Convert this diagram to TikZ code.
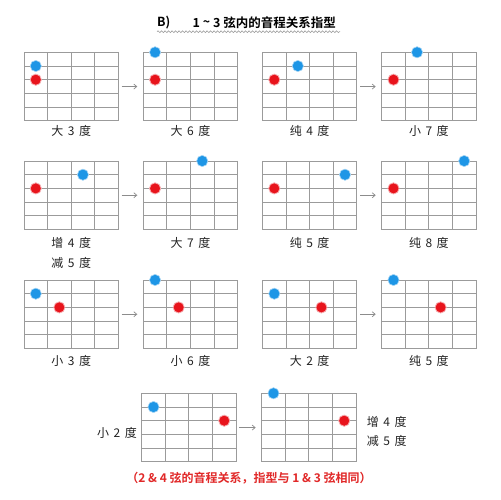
\documentclass[tikz,border=0pt]{standalone}
\usepackage{fontspec}
\setmainfont{Noto Sans CJK SC}
\newfontfamily\cjkbold{Noto Sans CJK SC Bold}
\usetikzlibrary{decorations.pathmorphing,arrows.meta}
\definecolor{gridc}{RGB}{155,155,155}
\definecolor{dotblue}{RGB}{30,150,230}
\definecolor{dotred}{RGB}{232,20,28}
\definecolor{txt}{RGB}{35,35,35}
\definecolor{notered}{RGB}{225,40,40}
\tikzset{
  gridline/.style={draw=gridc,line width=0.8pt},
  board/.style={draw=none,minimum width=94.3pt,minimum height=68.5pt,inner sep=0pt,outer sep=0pt},
  bluedot/.style={fill=dotblue,draw=dotblue!40,line width=0.6pt},
  reddot/.style={fill=dotred,draw=dotred!35,line width=0.8pt},
  lbl/.style={text=txt,font=\fontsize{12}{14}\selectfont,inner sep=0pt},
  nextarrow/.style={draw=gray!90,line width=0.7pt,-{Straight Barb[length=3pt,width=5pt]},shorten <=3.4pt,shorten >=6pt},
}
\newcommand\IntLbl[2]{#1\hspace{4.5pt}#2\hspace{4.5pt}度}
\newcommand\FB[7]{%
  \begin{scope}[shift={(#2,#3)}]
    \node[board,anchor=north west] (#1) at (0,0) {};
    \foreach \j in {0,...,5} \draw[gridline] (0,\j*13.7) -- (94.3,\j*13.7);
    \foreach \i in {0,...,4} \draw[gridline] (\i*23.575,0) -- (\i*23.575,68.5);
    \fill[bluedot] ({23.575*(#4+0.5)},{13.7*#5}) circle (5.6);
    \fill[reddot] ({23.575*(#6+0.5)},{13.7*#7}) circle (5.6);
  \end{scope}}
\begin{document}
\begin{tikzpicture}[x=1pt,y=-1pt]
\useasboundingbox[fill=white] (0,0) rectangle (501,500);
% title
\node[anchor=west,inner sep=0pt,text=black,font=\cjkbold\fontsize{12.5}{14}\selectfont] (titleb) at (157,22.5) {B)};
\node[anchor=west,inner sep=0pt,text=black,font=\cjkbold\fontsize{12.5}{14}\selectfont] (title) at (192.5,22.5) {1 \raisebox{1pt}{\char"007E} 3\hspace{3pt}弦内的音程关系指型};
\draw[gridc,line width=0.6pt,decorate,decoration={snake,amplitude=0.9pt,segment length=3.5pt}] (157,31.7) -- (340,31.7);
% row 1
\FB{a1}{24}{52.3}{0}{1}{0}{2}
\FB{a2}{143.3}{52.3}{0}{0}{0}{2}
\FB{a3}{262.5}{52.3}{1}{1}{0}{2}
\FB{a4}{381.7}{52.3}{1}{0}{0}{2}
\draw[nextarrow] (a1.east) -- (a2.west);
\draw[nextarrow] (a3.east) -- (a4.west);
\node[lbl] (la1) at (71.2,131) {\IntLbl{大}{3}};
\node[lbl] (la2) at (190.5,131) {\IntLbl{大}{6}};
\node[lbl] (la3) at (309.6,131) {\IntLbl{纯}{4}};
\node[lbl] (la4) at (428.9,131) {\IntLbl{小}{7}};
% row 2
\FB{b1}{24}{161}{2}{1}{0}{2}
\FB{b2}{143.3}{161}{2}{0}{0}{2}
\FB{b3}{262.5}{161}{3}{1}{0}{2}
\FB{b4}{381.7}{161}{3}{0}{0}{2}
\draw[nextarrow] (b1.east) -- (b2.west);
\draw[nextarrow] (b3.east) -- (b4.west);
\node[lbl] (lb1) at (71.2,243.3) {\IntLbl{增}{4}};
\node[lbl] (lb1b) at (71.2,262.7) {\IntLbl{减}{5}};
\node[lbl] (lb2) at (190.5,243.3) {\IntLbl{大}{7}};
\node[lbl] (lb3) at (309.6,243.3) {\IntLbl{纯}{5}};
\node[lbl] (lb4) at (428.9,243.3) {\IntLbl{纯}{8}};
% row 3
\FB{c1}{24}{280}{0}{1}{1}{2}
\FB{c2}{143.3}{280}{0}{0}{1}{2}
\FB{c3}{262.5}{280}{0}{1}{2}{2}
\FB{c4}{381.7}{280}{0}{0}{2}{2}
\draw[nextarrow] (c1.east) -- (c2.west);
\draw[nextarrow] (c3.east) -- (c4.west);
\node[lbl] (lc1) at (71.2,361) {\IntLbl{小}{3}};
\node[lbl] (lc2) at (190.5,361) {\IntLbl{小}{6}};
\node[lbl] (lc3) at (309.6,361) {\IntLbl{大}{2}};
\node[lbl] (lc4) at (428.9,361) {\IntLbl{纯}{5}};
% row 4
\FB{d1}{141.7}{393.3}{0}{1}{3}{2}
\FB{d2}{261.7}{393.3}{0}{0}{3}{2}
\draw[nextarrow] (d1.east) -- (d2.west);
\node[lbl] (ld1) at (117,433) {\IntLbl{小}{2}};
\node[lbl,anchor=west] (ld2) at (366.7,422.3) {\IntLbl{增}{4}};
\node[lbl,anchor=west] (ld2b) at (366.7,440.5) {\IntLbl{减}{5}};
% note
\node[inner sep=0pt,text=notered,font=\cjkbold\fontsize{12}{14}\selectfont] (note) at (249,477.7) {（2 \& 4 弦的音程关系，指型与 1 \& 3 弦相同）};
\end{tikzpicture}
\end{document}
